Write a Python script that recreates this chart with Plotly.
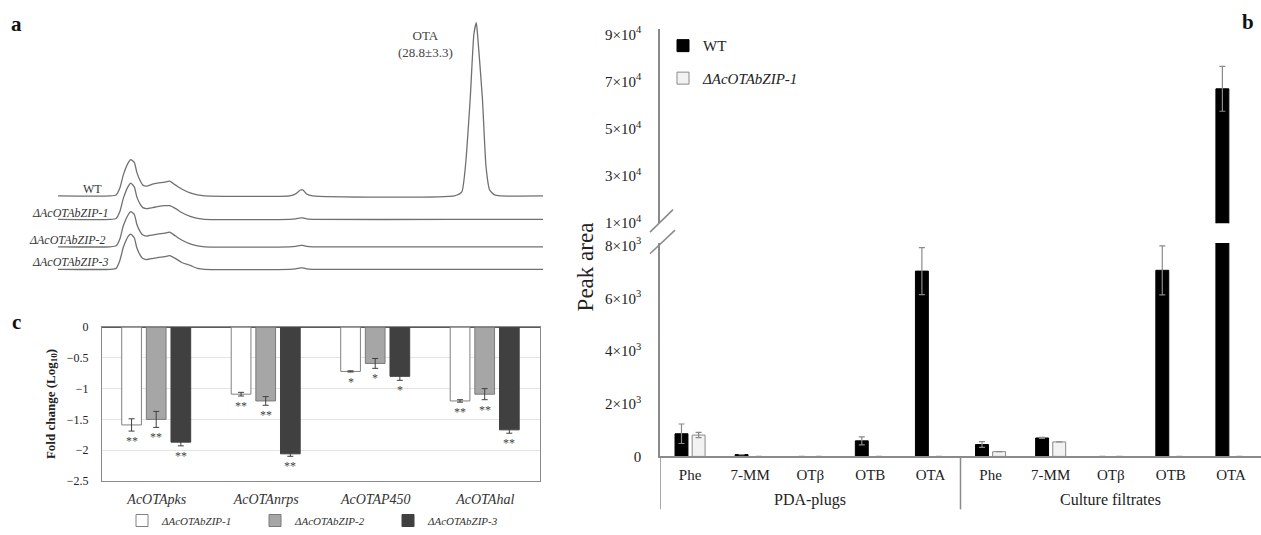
import plotly.graph_objects as go

W, H = 1261, 535
def px(p):
    return p / W
def py(p):
    return 1 - p / H

FONT = "Liberation Serif"
TXT = "#222222"

# ---------------- Panel a: HPLC chromatograms ----------------
ret_time = [0, 4.3, 4.8, 5.1, 5.4, 5.8, 6.0, 6.3, 6.5, 6.8,
            7.0, 7.3, 7.8, 8.2, 8.8, 9.2, 9.7, 10.2, 10.9, 11.5,
            12.1, 19.1, 19.6, 20.0, 20.2, 20.5, 21.0, 32.7, 33.3, 33.6,
            34.0, 34.3, 34.5, 34.6, 35.0, 35.3, 35.6, 36.0, 36.5, 40]
wt_signal = [0, 0, 1, 8, 22, 34, 37, 34, 24, 15,
             11, 10, 12, 13, 14, 15, 11, 7, 3, 1,
             0, 0, 2, 6, 6, 2, 0, 0, 4, 30,
             100, 165, 177, 165, 100, 30, 6, 1, 0, 0]
zip1_signal = [0, 0, 1, 8, 22, 34, 37, 33, 23, 15,
               12, 11, 12, 13, 14, 14, 11, 7, 3, 1,
               0, 0, 0.5, 1.5, 1.5, 0.5, 0, 0, 0, 0,
               0, 0, 0, 0, 0, 0, 0, 0, 0, 0]
zip2_signal = [0, 0, 1, 8, 22, 33, 36, 33, 23, 15,
               12, 11, 12, 13, 14, 15, 11, 7, 3, 1,
               0, 0, 0.5, 1.5, 1.5, 0.5, 0, 0, 0, 0,
               0, 0, 0, 0, 0, 0, 0, 0, 0, 0]
zip3_signal = [0, 0, 1, 9, 23, 34, 36, 32, 22, 14,
               11, 10, 11, 12, 13, 14, 11, 7, 4, 1,
               0, 0, 0.5, 1.5, 1.5, 0.5, 0, 0, 0, 0,
               0, 0, 0, 0, 0, 0, 0, 0, 0, 0]
chrom_labels = ["WT", "<i>ΔAcOTAbZIP-1</i>", "<i>ΔAcOTAbZIP-2</i>", "<i>ΔAcOTAbZIP-3</i>"]
ota_label = "OTA<br>(28.8±3.3)"

# ---------------- Panel b: peak areas ----------------
b_group_names = ["PDA-plugs", "Culture filtrates"]
b_groups = ["PDA-plugs"] * 5 + ["Culture filtrates"] * 5
b_compounds = ["Phe", "7-MM", "OTβ", "OTB", "OTA"] * 2
wt_area = [860, 70, 0, 590, 7030, 450, 700, 0, 7060, 66900]
wt_err = [370, 0, 0, 150, 890, 110, 20, 0, 930, 9500]
mut_area = [810, 0, 0, 0, 0, 180, 550, 0, 0, 0]
mut_err = [100, 0, 0, 0, 0, 0, 0, 0, 0, 0]
b_names = ["WT", "<i>ΔAcOTAbZIP-1</i>"]
low_ticks = [0, 2000, 4000, 6000, 8000]
low_ticktext = ["0", "2×10<sup>3</sup>", "4×10<sup>3</sup>", "6×10<sup>3</sup>", "8×10<sup>3</sup>"]
up_ticks = [10000, 30000, 50000, 70000, 90000]
up_ticktext = ["1×10<sup>4</sup>", "3×10<sup>4</sup>", "5×10<sup>4</sup>", "7×10<sup>4</sup>", "9×10<sup>4</sup>"]

# ---------------- Panel c: qRT-PCR fold change ----------------
genes = ["AcOTApks", "AcOTAnrps", "AcOTAP450", "AcOTAhal"]
zip1_fc = [-1.59, -1.09, -0.72, -1.20]
zip1_fc_err = [0.10, 0.03, 0.01, 0.02]
zip2_fc = [-1.50, -1.20, -0.59, -1.09]
zip2_fc_err = [0.13, 0.07, 0.08, 0.09]
zip3_fc = [-1.87, -2.06, -0.80, -1.67]
zip3_fc_err = [0.06, 0.04, 0.065, 0.055]
zip1_sig = ["**", "**", "*", "**"]
zip2_sig = ["**", "**", "*", "**"]
zip3_sig = ["**", "**", "*", "**"]
c_names = ["<i>ΔAcOTAbZIP-1</i>", "<i>ΔAcOTAbZIP-2</i>", "<i>ΔAcOTAbZIP-3</i>"]

fig = go.Figure()

# ---- panel a traces
chrom_offsets = [100, 76, 48, 25]
for sig, off in zip([wt_signal, zip1_signal, zip2_signal, zip3_signal], chrom_offsets):
    fig.add_trace(go.Scatter(x=ret_time, y=[s + off for s in sig], mode="lines",
                             line=dict(color="#707070", width=1.3, shape="spline", smoothing=0.5),
                             xaxis="x3", yaxis="y3", showlegend=False, hoverinfo="skip"))

# ---- panel b traces (one category per group/compound pair)
b_keys = ["%s | %s" % (g, c) for g, c in zip(b_groups, b_compounds)]
b_fill = ["black", "#f2f2f2"]
b_edge = ["black", "#8a8a8a"]
b_offsets = [-0.25, 0.035]
for yax, show in [("y", True), ("y2", False)]:
    for name, vals, errs, fc, ec, off in zip(b_names, [wt_area, mut_area], [wt_err, mut_err],
                                             b_fill, b_edge, b_offsets):
        fig.add_trace(go.Bar(
            x=b_keys, y=vals, name=name,
            error_y=dict(type="data", array=[e if e else None for e in errs],
                         color="#8a8a8a", thickness=1.2, width=3),
            marker=dict(color=fc, line=dict(color=ec, width=[1 if v else 0 for v in vals])),
            offset=off, width=0.215,
            xaxis="x", yaxis=yax, showlegend=show, legend="legend", legendgroup=name))

# ---- panel c traces
c_styles = [
    dict(color="white", line=dict(color="#808080", width=1)),
    dict(color="#a6a6a6", line=dict(color="#7a7a7a", width=1)),
    dict(color="#404040", line=dict(color="#404040", width=1)),
]
c_offsets = [-0.32, -0.095, 0.13]
c_width = 0.18
for name, vals, errs, sigs, st, off in zip(c_names, [zip1_fc, zip2_fc, zip3_fc],
                                           [zip1_fc_err, zip2_fc_err, zip3_fc_err],
                                           [zip1_sig, zip2_sig, zip3_sig], c_styles, c_offsets):
    fig.add_trace(go.Bar(
        x=genes, y=vals, name=name,
        error_y=dict(type="data", array=errs, color="#404040", thickness=1, width=3),
        marker=st, offset=off, width=c_width,
        xaxis="x4", yaxis="y4", legend="legend2"))
    for i, (v, e, s) in enumerate(zip(vals, errs, sigs)):
        fig.add_annotation(x=i + off + c_width / 2, y=v - e, xref="x4", yref="y4",
                           text=s, showarrow=False, xanchor="center", yanchor="top", yshift=-1,
                           font=dict(family=FONT, size=12, color="#444444"))

axis_gray = "#8a8a8a"

fig.update_layout(
    width=W, height=H, template="none",
    margin=dict(l=0, r=0, t=0, b=0),
    paper_bgcolor="white", plot_bgcolor="rgba(0,0,0,0)",
    font=dict(family=FONT, color=TXT, size=14),
    barmode="group",
    # panel b
    xaxis=dict(type="category", domain=[px(660), 1.0], anchor="y", range=[-0.5, len(b_keys) - 0.5],
               tickmode="array", tickvals=b_keys, ticktext=b_compounds,
               showline=True, linecolor=axis_gray, linewidth=1.5, ticks="",
               ticklabelstandoff=4,
               showgrid=False, tickfont=dict(family=FONT, size=15, color=TXT)),
    yaxis=dict(domain=[py(466), py(248)], range=[0, 8100], anchor="x",
               tickmode="array", tickvals=low_ticks, ticktext=low_ticktext,
               showline=True, linecolor=axis_gray, linewidth=1.5, ticks="",
               showgrid=False, zeroline=False, ticklabelstandoff=14,
               tickfont=dict(family=FONT, size=15, color=TXT)),
    yaxis2=dict(domain=[py(228), py(30)], range=[9950, 92070], anchor="x",
                tickmode="array", tickvals=up_ticks, ticktext=up_ticktext,
                showline=True, linecolor=axis_gray, linewidth=1.5, ticks="",
                showgrid=False, zeroline=False, ticklabelstandoff=14,
                tickfont=dict(family=FONT, size=15, color=TXT)),
    # panel a
    xaxis3=dict(domain=[px(58), px(543)], range=[0, 40], anchor="y3", visible=False),
    yaxis3=dict(domain=[py(300), py(20)], range=[0, 280], anchor="x3", visible=False),
    # panel c
    xaxis4=dict(domain=[px(102), px(540)], anchor="y4", showline=True, mirror=True,
                linecolor=axis_gray, linewidth=1.2, ticks="", showgrid=False,
                tickmode="array", tickvals=genes, ticktext=["<i>%s</i>" % g for g in genes],
                ticklabelstandoff=5,
                tickfont=dict(family=FONT, size=14, color="#333333")),
    yaxis4=dict(domain=[py(491), py(334)], range=[-2.5, 0], anchor="x4", dtick=0.5,
                showline=True, mirror=True, linecolor=axis_gray, linewidth=1.2, ticks="",
                showgrid=True, gridcolor="#e4e4e4", zeroline=True, zerolinecolor="#5a5a5a",
                zerolinewidth=1.5, ticklabelstandoff=10,
                tickfont=dict(family=FONT, size=12, color=TXT),
                title=dict(text="<b>Fold change (Log<sub>10</sub>)</b>",
                           font=dict(family=FONT, size=13, color=TXT), standoff=8)),
    legend=dict(x=px(663), y=py(30), xanchor="left", yanchor="top",
                bgcolor="rgba(0,0,0,0)", tracegroupgap=10, traceorder="grouped",
                font=dict(family=FONT, size=15, color=TXT)),
    legend2=dict(orientation="h", x=px(122), y=py(517), xanchor="left", yanchor="top",
                 bgcolor="rgba(0,0,0,0)", entrywidth=88, entrywidthmode="pixels",
                 font=dict(family=FONT, size=11, color="#333333")),
)

# group dividers and group labels below the panel b category axis
n_first = b_groups.count(b_group_names[0])
for xv in [-0.5, n_first - 0.5]:
    fig.add_shape(type="line", xref="x", yref="paper", x0=xv, x1=xv,
                  y0=py(466), y1=py(520), line=dict(color=axis_gray, width=1.5))
for gname in b_group_names:
    idx = [i for i, g in enumerate(b_groups) if g == gname]
    fig.add_annotation(x=(idx[0] + idx[-1]) / 2, y=py(510), xref="x", yref="paper",
                       text=gname, showarrow=False, xanchor="center", yanchor="middle",
                       font=dict(family=FONT, size=16, color=TXT))

# axis break marks on panel b
for (x0, y0, x1, y1) in [(650, 237, 673, 214), (650, 259, 675, 235)]:
    fig.add_shape(type="line", xref="paper", yref="paper",
                  x0=px(x0), y0=py(y0), x1=px(x1), y1=py(y1),
                  line=dict(color=axis_gray, width=1.5))

# panel b y-axis title
fig.add_annotation(x=px(585), y=py(273), xref="paper", yref="paper", text="Peak area",
                   textangle=-90, showarrow=False, xanchor="center", yanchor="middle",
                   font=dict(family=FONT, size=23, color=TXT))

# panel a labels
label_x = [104, 110, 107, 110]
for lab, off, lx in zip(chrom_labels, chrom_offsets, label_x):
    fig.add_annotation(x=px(lx), y=off + 7, xref="paper", yref="y3", text=lab,
                       showarrow=False, xanchor="right", yanchor="middle",
                       font=dict(family=FONT, size=12, color="#333333"))
fig.add_annotation(x=px(425), y=py(45), xref="paper", yref="paper", text=ota_label,
                   showarrow=False, xanchor="center", yanchor="middle",
                   font=dict(family=FONT, size=13, color="#444444"))

# panel letters
for letter, lx, ly in [("a", 16, 24), ("b", 1248, 22), ("c", 16, 329)]:
    fig.add_annotation(x=px(lx), y=py(ly), xref="paper", yref="paper",
                       text="<b>%s</b>" % letter, showarrow=False,
                       xanchor="center", yanchor="middle",
                       font=dict(family=FONT, size=21, color="#111111"))

# remove the default page margin so the figure starts at the window corner
page_fix = "document.body.style.margin='0';document.body.style.overflow='hidden';"
fig.write_html("out.html", post_script=page_fix, config={"displayModeBar": False})
